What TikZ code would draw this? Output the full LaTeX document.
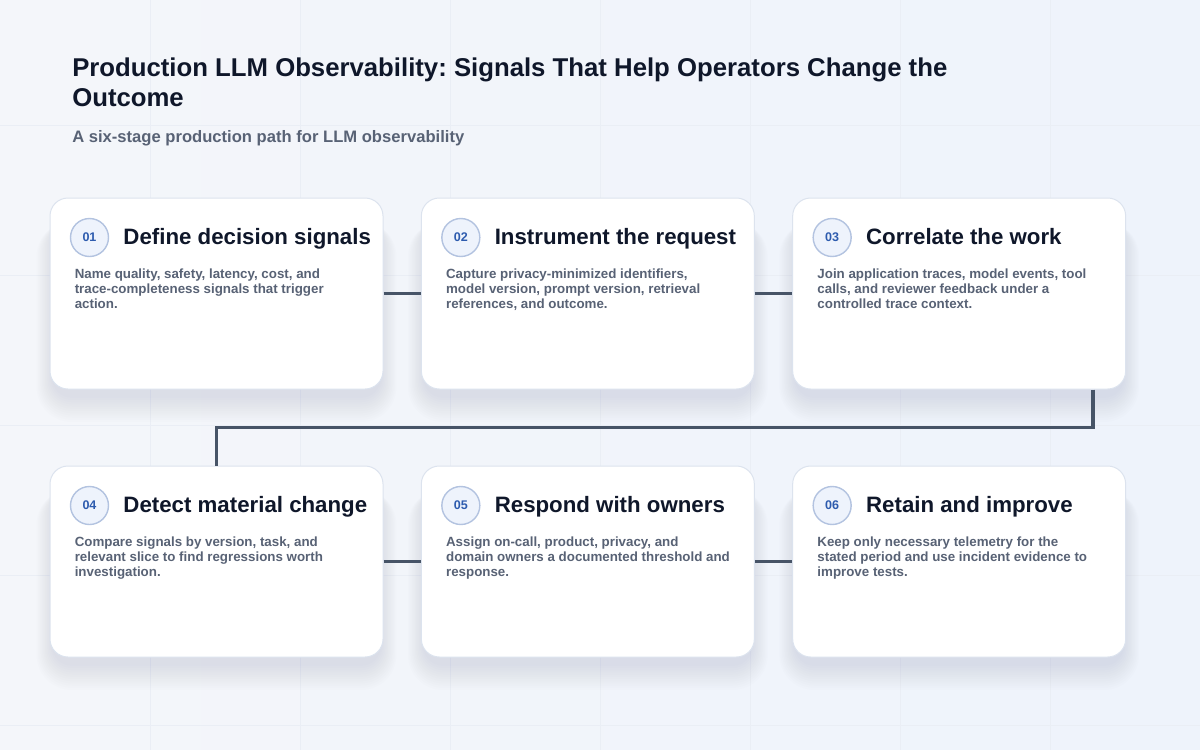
\documentclass[tikz,border=0pt]{standalone}
\usepackage{fontspec}
\setmainfont{Liberation Sans}
\usepackage{tikz}
\usetikzlibrary{positioning,calc}
\definecolor{inkdark}{HTML}{0F172A}
\definecolor{inkmuted}{HTML}{586275}
\definecolor{linkslate}{HTML}{475467}
\definecolor{cardedge}{HTML}{DCE3EE}
\definecolor{badgefill}{HTML}{EEF3FC}
\definecolor{badgeedge}{HTML}{B3C3E0}
\definecolor{badgeink}{HTML}{2D5BAE}
\definecolor{pageleft}{HTML}{F4F6FA}
\definecolor{pageright}{HTML}{EEF3FB}
\definecolor{gridline}{HTML}{EAEEF5}
\definecolor{shadowtone}{HTML}{8593AE}
\newdimen\px \px=0.75pt
\pgfdeclarelayer{bg}
\pgfdeclarelayer{shadow}
\pgfsetlayers{bg,shadow,main}
\frenchspacing

\begin{document}
\begin{tikzpicture}[x=0.75pt, y=-0.75pt,
    card/.style={draw=cardedge, line width=1\px, fill=white, rounded corners=18\px,
      minimum width=333\px, minimum height=191\px, inner sep=0pt},
    badge/.style={circle, draw=badgeedge, line width=1.4\px, fill=badgefill,
      minimum size=38\px, inner sep=0pt, text=badgeink,
      font=\bfseries\fontsize{9.4pt}{11pt}\selectfont},
    stagetitle/.style={anchor=base west, inner sep=0pt, text=inkdark,
      font=\bfseries\fontsize{16.7pt}{20pt}\selectfont},
    stagetext/.style={anchor=north west, inner sep=0pt, align=left, text=inkmuted,
      font=\bfseries\fontsize{10pt}{11.25pt}\selectfont},
    link/.style={draw=linkslate, line width=3.5\px}]
  \useasboundingbox (0,0) rectangle (1200,750);

  % page and faint grid
  \begin{pgfonlayer}{bg}
    \shade[left color=pageleft, right color=pageright] (0,0) rectangle (1200,750);
    \foreach \gx in {150,300,...,1050}
      \draw[gridline, line width=1\px] (\gx,0) -- (\gx,750);
    \foreach \gy in {125,275,...,725}
      \draw[gridline, line width=1\px] (0,\gy) -- (1200,\gy);
  \end{pgfonlayer}

  % heading
  \node[anchor=north west, inner sep=0pt, align=left, text=inkdark,
    font=\bfseries\fontsize{19.3pt}{22.5pt}\selectfont] (heading) at (72,57.5)
    {Production LLM Observability: Signals That Help Operators Change the\\Outcome};
  \node[anchor=north west, inner sep=0pt, text=inkmuted,
    font=\bfseries\fontsize{12.45pt}{14pt}\selectfont] (subheading) at (72,130)
    {A six-stage production path for LLM observability};

  % stage cards
  \node[card] (c1) at (216.5,293.5) {};
  \node[card, right=28pt of c1] (c2) {};
  \node[card, right=28pt of c2] (c3) {};
  \node[card, below=57pt of c1] (c4) {};
  \node[card, right=28pt of c4] (c5) {};
  \node[card, right=28pt of c5] (c6) {};

  \begin{pgfonlayer}{shadow}
    \foreach \c in {c1,c2,c3,c4,c5,c6}{
      \foreach \k in {1,...,12}{
        \pgfmathsetmacro\rr{(18+1.4*\k)*0.75}
        \fill[shadowtone, opacity=.016, rounded corners=\rr pt]
          ($(\c.south west)+(-1.4*\k+4,6+2.2*\k)$) rectangle ($(\c.north east)+(1.4*\k-4,24)$);
      }}
  \end{pgfonlayer}

  \node[badge] (b1) at ($(c1.north west)+(40,40)$) {01};
  \node[stagetitle] (t1) at ($(b1.east)+(14,6.8)$) {Define decision signals};
  \node[stagetext] (d1) at ($(c1.north west)+(25,71.5)$)
    {Name quality, safety, latency, cost, and\\trace-completeness signals that trigger\\action.};

  \node[badge] (b2) at ($(c2.north west)+(40,40)$) {02};
  \node[stagetitle] (t2) at ($(b2.east)+(14,6.8)$) {Instrument the request};
  \node[stagetext] (d2) at ($(c2.north west)+(25,71.5)$)
    {Capture privacy-minimized identifiers,\\model version, prompt version, retrieval\\references, and outcome.};

  \node[badge] (b3) at ($(c3.north west)+(40,40)$) {03};
  \node[stagetitle] (t3) at ($(b3.east)+(14,6.8)$) {Correlate the work};
  \node[stagetext] (d3) at ($(c3.north west)+(25,71.5)$)
    {Join application traces, model events, tool\\calls, and reviewer feedback under a\\controlled trace context.};

  \node[badge] (b4) at ($(c4.north west)+(40,40)$) {04};
  \node[stagetitle] (t4) at ($(b4.east)+(14,6.8)$) {Detect material change};
  \node[stagetext] (d4) at ($(c4.north west)+(25,71.5)$)
    {Compare signals by version, task, and\\relevant slice to find regressions worth\\investigation.};

  \node[badge] (b5) at ($(c5.north west)+(40,40)$) {05};
  \node[stagetitle] (t5) at ($(b5.east)+(14,6.8)$) {Respond with owners};
  \node[stagetext] (d5) at ($(c5.north west)+(25,71.5)$)
    {Assign on-call, product, privacy, and\\domain owners a documented threshold and\\response.};

  \node[badge] (b6) at ($(c6.north west)+(40,40)$) {06};
  \node[stagetitle] (t6) at ($(b6.east)+(14,6.8)$) {Retain and improve};
  \node[stagetext] (d6) at ($(c6.north west)+(25,71.5)$)
    {Keep only necessary telemetry for the\\stated period and use incident evidence to\\improve tests.};

  % connectors
  \draw[link] (c1) -- (c2);
  \draw[link] (c2) -- (c3);
  \draw[link] ($(c3.south east)+(-33,0)$) |- ($(c1.south)!.5!(c4.north)$) -- (c4.north);
  \draw[link] (c4) -- (c5);
  \draw[link] (c5) -- (c6);
\end{tikzpicture}
\end{document}
